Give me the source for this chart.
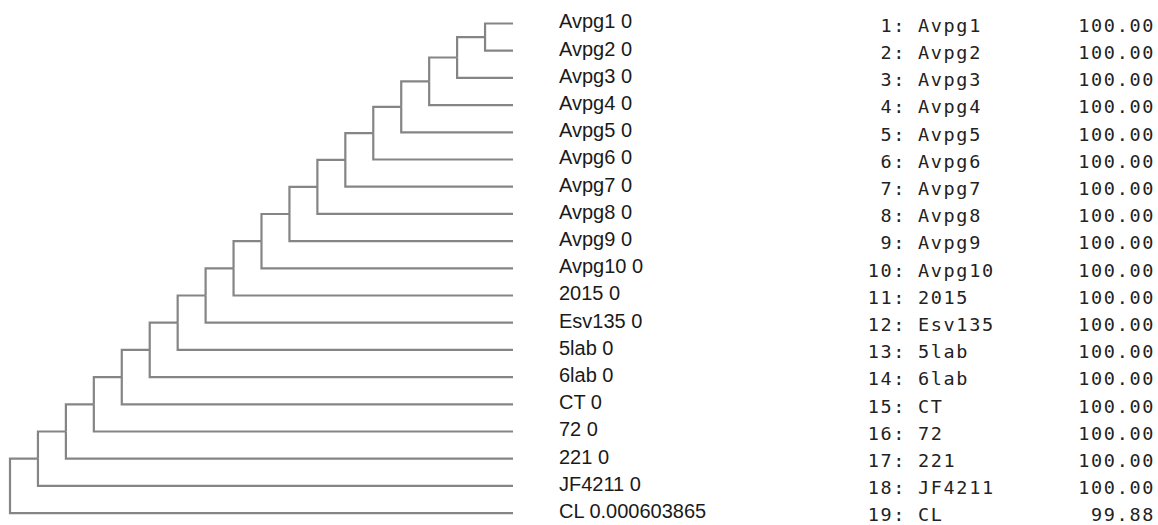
<!DOCTYPE html>
<html>
<head>
<meta charset="utf-8">
<script src="https://cdn.jsdelivr.net/npm/d3@7"></script>
<style>
  body { margin: 0; background: #fff; }
  .branch { fill: none; stroke: #858585; stroke-width: 2.2; }
  .leaf-label { font-family: "Liberation Sans", Arial, sans-serif; font-size: 20px; fill: #1a1a1a; }
  .table-text { font-family: "DejaVu Sans Mono", monospace; font-size: 18.5px; letter-spacing: 1.65px; fill: #222; }
</style>
</head>
<body>
<div id="chart"></div>
<script>
// leaves from top to bottom, with the value printed after each name
const leaves = ["Avpg1", "Avpg2", "Avpg3", "Avpg4", "Avpg5", "Avpg6", "Avpg7", "Avpg8", "Avpg9", "Avpg10",
  "2015", "Esv135", "5lab", "6lab", "CT", "72", "221", "JF4211", "CL"];
const leafValues = ["0", "0", "0", "0", "0", "0", "0", "0", "0", "0",
  "0", "0", "0", "0", "0", "0", "0", "0", "0.000603865"];
const percents = [100, 100, 100, 100, 100, 100, 100, 100, 100, 100,
  100, 100, 100, 100, 100, 100, 100, 100, 99.88];

const width = 1158;
const height = 525;
const rowGap = 27.2;
const firstRow = 23.5;
const treeLeft = 10;
const treeWidth = 503;

const svg = d3
  .select("#chart")
  .append("svg")
  .attr("width", width)
  .attr("height", height);

// caterpillar tree: each node joins one leaf with everything above it
let node = { name: leaves[0], value: leafValues[0], index: 0 };
for (let i = 1; i < leaves.length; i++) {
  node = { children: [node, { name: leaves[i], value: leafValues[i], index: i }] };
}

const root = d3.hierarchy(node);
// cluster keeps half a row of padding above the first and below the last leaf
d3.cluster().size([rowGap * leaves.length, treeWidth]).separation(() => 1)(root);

const plot = svg
  .append("g")
  .attr("transform", `translate(${treeLeft},${firstRow - rowGap / 2})`);

plot
  .selectAll("path.branch")
  .data(root.links())
  .join("path")
  .attr("class", "branch")
  .attr("d", (d) => `M${d.source.y},${d.source.x}V${d.target.x}H${d.target.y}`);

plot
  .selectAll("text.leaf-label")
  .data(root.leaves())
  .join("text")
  .attr("class", "leaf-label")
  .attr("x", (d) => d.y + 46)
  .attr("y", (d) => d.x + 5)
  .text((d) => `${d.data.name} ${d.data.value}`);

// table on the right
const rowY = d3
  .scalePoint()
  .domain(d3.range(leaves.length))
  .range([firstRow + 8.3, firstRow + rowGap * (leaves.length - 1) + 8.3]);

const table = svg.append("g");

table
  .selectAll("text.idx")
  .data(leaves)
  .join("text")
  .attr("class", "table-text idx")
  .attr("x", 906)
  .attr("y", (d, i) => rowY(i))
  .attr("text-anchor", "end")
  .text((d, i) => `${i + 1}:`);

table
  .selectAll("text.name")
  .data(leaves)
  .join("text")
  .attr("class", "table-text name")
  .attr("x", 918)
  .attr("y", (d, i) => rowY(i))
  .text((d) => d);

table
  .selectAll("text.pct")
  .data(percents)
  .join("text")
  .attr("class", "table-text pct")
  .attr("x", 1155)
  .attr("y", (d, i) => rowY(i))
  .attr("text-anchor", "end")
  .text((d) => d.toFixed(2));
</script>
</body>
</html>
